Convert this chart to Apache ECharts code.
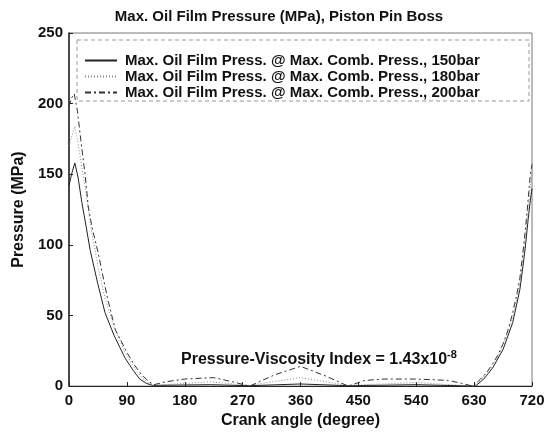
<!DOCTYPE html>
<html>
<head>
<meta charset="utf-8">
<script src="https://cdn.jsdelivr.net/npm/echarts@6/dist/echarts.min.js"></script>
<style>
  html, body { margin: 0; padding: 0; background: #fff; }
  #main { width: 558px; height: 434px; }
</style>
</head>
<body>
<div id="main"></div>
<script>
  // values
  var seriesNames = [
    'Max. Oil Film Press. @ Max. Comb. Press., 150bar',
    'Max. Oil Film Press. @ Max. Comb. Press., 180bar',
    'Max. Oil Film Press. @ Max. Comb. Press., 200bar'
  ];
  var angle150 = [0, 4, 9, 14, 20, 27, 33, 45, 56, 70, 87, 100, 110, 120, 130, 180, 220, 280, 360, 434, 540, 632, 645, 659, 675, 690, 701, 706, 710, 714, 717, 720];
  var press150 = [142, 150, 158, 148, 130, 112, 96, 72, 52, 36, 20, 11, 5, 2, 0.5, 0.8, 1, 0.3, 1.5, 0.3, 1, 0, 5, 13, 26, 45, 68, 85, 100, 118, 130, 140];
  var angle180 = [0, 5, 9, 14, 20, 27, 33, 45, 56, 70, 87, 100, 113, 125, 132, 180, 220, 280, 360, 434, 540, 630, 642, 659, 675, 690, 701, 706, 710, 714, 717, 720];
  var press180 = [170, 178, 184, 172, 155, 135, 115, 85, 62, 42, 24, 14, 6, 2, 0.5, 2, 3, 0.5, 6, 0.5, 2.5, 0, 5, 14, 28, 48, 72, 90, 106, 125, 140, 150];
  var angle200 = [0, 4, 8, 13, 20, 25, 30, 36, 45, 60, 72, 90, 100, 113, 125, 132, 150, 180, 225, 255, 281, 320, 360, 400, 434, 460, 490, 540, 590, 610, 628, 640, 650, 659, 667, 675, 683, 690, 696, 701, 706, 710, 714, 717, 720];
  var press200 = [198, 204, 207, 195, 168, 150, 127, 112, 95, 62, 40, 24, 16, 8, 3, 1, 3, 5, 6, 3, 0, 8, 14, 7, 0, 4, 5, 5, 4, 2, 0, 5, 10, 16, 22, 30, 40, 52, 64, 76, 95, 112, 132, 148, 157];
  var xTicks = [0, 90, 180, 270, 360, 450, 540, 630, 720];
  var yTicks = [0, 50, 100, 150, 200, 250];

  function pairs(xs, ys) {
    return xs.map(function (x, i) { return [x, ys[i]]; });
  }

  var font = 'Liberation Sans, Arial, sans-serif';
  var myEchart = echarts.init(document.getElementById('main'));
  myEchart.setOption({
    animation: false,
    backgroundColor: '#fff',
    textStyle: { fontFamily: font },
    title: [
      {
        text: 'Max. Oil Film Pressure (MPa), Piston Pin Boss',
        left: 'center',
        top: 4,
        textStyle: { fontSize: 15, fontWeight: 'bold', color: '#111', fontFamily: font }
      },
      {
        text: '{a|Pressure-Viscosity Index = 1.43x10}{s|-8}',
        left: 176,
        top: 344,
        textStyle: {
          rich: {
            a: { fontSize: 16, fontWeight: 'bold', color: '#111', fontFamily: font },
            s: { fontSize: 11, fontWeight: 'bold', color: '#111', fontFamily: font, padding: [0, 0, 11, 0] }
          }
        }
      }
    ],
    legend: {
      data: seriesNames,
      orient: 'vertical',
      left: 84,
      top: 53,
      itemWidth: 32,
      itemHeight: 14,
      itemGap: 1,
      padding: 0,
      itemStyle: { opacity: 0 },
      textStyle: { fontSize: 15, fontWeight: 'bold', color: '#111', fontFamily: font, padding: [0, 0, 0, 3] }
    },
    graphic: [{
      type: 'rect',
      shape: { x: 77, y: 40, width: 452, height: 61 },
      style: { fill: 'none', stroke: '#999', lineWidth: 1, lineDash: [4, 3] },
      z: 5
    }],
    grid: { left: 69, right: 26, top: 33, bottom: 46, show: true, borderColor: '#777', borderWidth: 1 },
    xAxis: {
      type: 'value',
      min: 0,
      max: 720,
      interval: 90,
      name: 'Crank angle (degree)',
      nameLocation: 'middle',
      nameGap: 25,
      nameTextStyle: { fontSize: 16, fontWeight: 'bold', color: '#111', fontFamily: font },
      axisLine: { lineStyle: { color: '#222' } },
      axisTick: { inside: true, length: 4, lineStyle: { color: '#222' } },
      axisLabel: { fontSize: 15, fontWeight: 'bold', color: '#111', margin: 7,
        formatter: function (v) { return xTicks.indexOf(v) >= 0 ? v : ''; } },
      splitLine: { show: false }
    },
    yAxis: {
      type: 'value',
      min: 0,
      max: 250,
      interval: 50,
      name: 'Pressure (MPa)',
      nameLocation: 'middle',
      nameGap: 37,
      nameTextStyle: { fontSize: 16, fontWeight: 'bold', color: '#111', fontFamily: font },
      axisLine: { lineStyle: { color: '#222', width: 1.5 } },
      axisTick: { inside: true, length: 4, lineStyle: { color: '#222' } },
      axisLabel: { fontSize: 15, fontWeight: 'bold', color: '#111', margin: 6,
        formatter: function (v) { return yTicks.indexOf(v) >= 0 ? v : ''; } },
      splitLine: { show: false }
    },
    series: [
      {
        name: seriesNames[0],
        type: 'line',
        symbol: 'none',
        lineStyle: { color: '#222', width: 1, type: 'solid' },
        itemStyle: { color: '#222' },
        data: pairs(angle150, press150)
      },
      {
        name: seriesNames[1],
        type: 'line',
        symbol: 'none',
        lineStyle: { color: '#888', width: 1, type: [1, 2] },
        itemStyle: { color: '#888' },
        data: pairs(angle180, press180)
      },
      {
        name: seriesNames[2],
        type: 'line',
        symbol: 'none',
        lineStyle: { color: '#333', width: 1, type: [6, 3, 2, 3] },
        itemStyle: { color: '#333' },
        data: pairs(angle200, press200)
      }
    ]
  });
  window.addEventListener('resize', myEchart.resize);
</script>
</body>
</html>
